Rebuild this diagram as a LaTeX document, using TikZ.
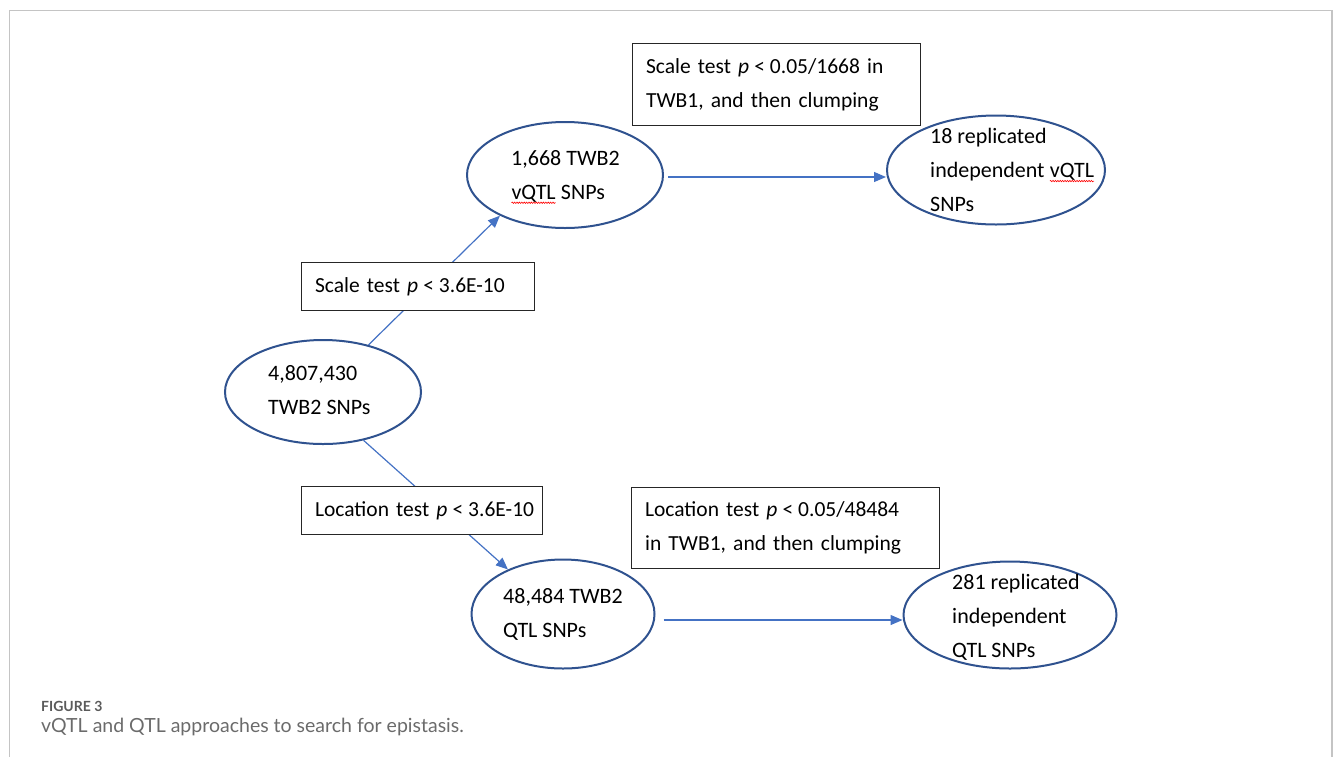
\documentclass[tikz,border=0pt]{standalone}
\usepackage{fontspec}
\setmainfont{Carlito}
\newfontfamily\capfont{Lato}
\usetikzlibrary{shapes.geometric,arrows.meta,decorations.pathmorphing}
\definecolor{ellcol}{HTML}{2F528F}
\definecolor{arrcol}{HTML}{4472C4}
\definecolor{framecol}{HTML}{C4C4C4}
\definecolor{capcol}{HTML}{6B6B6B}
\definecolor{figcol}{HTML}{5A5A5A}
\newcommand{\squig}[1]{\tikz[baseline=(sq.base)]{\node[inner sep=0pt,outer sep=0pt,draw=none,shape=rectangle,anchor=base] (sq) {#1};\draw[red,line width=0.6pt,decorate,decoration={snake,amplitude=0.7pt,segment length=2.4pt}] ([yshift=-3.5pt]sq.base west) -- ([yshift=-3.5pt]sq.base east);}}
\newcommand{\boxfont}{\fontsize{21.5}{34}\selectfont\spaceskip=0.21em\relax}
\newcommand{\plt}{\textit{p}\kern5pt<\kern5pt}
\begin{document}
\begin{tikzpicture}[x=1pt,y=-1pt,
  ell/.style={draw=ellcol,line width=2pt,ellipse,inner sep=0pt},
  txt/.style={align=left,inner sep=0pt,anchor=west,font=\fontsize{22}{34}\selectfont,text=black},
  box/.style={draw=black!85,line width=1.2pt,fill=white,anchor=north west,align=left,inner xsep=13.5pt,inner ysep=0pt,font=\boxfont},
  arr/.style={draw=arrcol,line width=1.2pt,-{Triangle[length=12pt,width=10pt]}}]
\useasboundingbox (0,0) rectangle (1335,756);
\draw[framecol,line width=1.5pt] (9.5,770) -- (9.5,10.5) -- (1332,10.5) -- (1332,770);
% ellipses
\node[ell,minimum width=196pt,minimum height=104pt] (e0) at (323,392) {};
\node[ell,minimum width=196pt,minimum height=106pt] (e1) at (565,175) {};
\node[ell,minimum width=218pt,minimum height=109pt] (e2) at (996,170) {};
\node[ell,minimum width=183pt,minimum height=109pt] (e3) at (563,614) {};
\node[ell,minimum width=213pt,minimum height=107pt] (e4) at (1010,615) {};
% ellipse texts
\node[txt] (t0) at (268,390) {4,807,430\\TWB2 SNPs};
\node[txt] (t1) at (511,177) {1,668 TWB2\\\squig{vQTL} SNPs};
\node[txt] (t2) at (930,170) {18 replicated\\independent \squig{vQTL}\\SNPs};
\node[txt] (t3) at (503,614) {48,484 TWB2\\QTL SNPs};
\node[txt] (t4) at (952,617) {281 replicated\\independent\\QTL SNPs};
% connectors
\draw[arr] (e0.46) -- (e1.212);
\draw[arr] (e0.310) -- (e3.141);
\draw[arr] ([xshift=4pt,yshift=-2pt]e1.east) -- ([yshift=-2pt]e1.east -| e2.west);
\draw[arr] ([xshift=8pt,yshift=-6pt]e3.east) -- ([yshift=-6pt]e3.east -| e4.west);
% boxes
\node[box,minimum height=82pt,text width=261pt] (b1) at (632,43) {\mbox{Scale test \plt0.05/1668 in}\\\mbox{TWB1, and then clumping}};
\node[box,minimum height=48pt,text width=206pt] (b2) at (301,262) {\mbox{Scale test \plt3.6E-10}};
\node[box,minimum height=48pt,text width=214pt] (b3) at (301,486) {\mbox{Location test \plt3.6E-10}};
\node[box,minimum height=81pt,text width=281pt] (b4) at (631,487) {\mbox{Location test \plt0.05/48484}\\\mbox{in TWB1, and then clumping}};
% caption
\node[anchor=base west,inner sep=0pt,font=\capfont\fontsize{14}{16}\selectfont\bfseries,text=figcol] (fig) at (41,711) {FIGURE 3};
\node[anchor=base west,inner sep=0pt,font=\capfont\fontsize{19.5}{22}\selectfont,text=capcol] (cap) at (41,732) {vQTL and QTL approaches to search for epistasis.};
\end{tikzpicture}
\end{document}
